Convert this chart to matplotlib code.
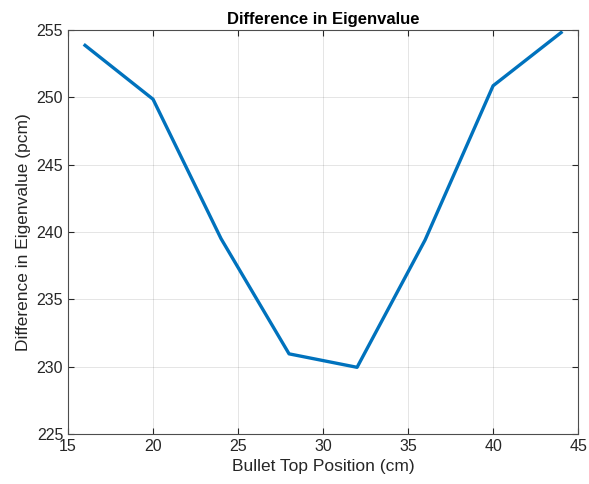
import matplotlib
matplotlib.use("Agg")
import matplotlib.pyplot as plt

plt.rcParams['font.family'] = ['Liberation Sans', 'DejaVu Sans']

# bullet top position (cm) vs eigenvalue difference (pcm)
position_cm = [16, 20, 24, 28, 32, 36, 40, 44]
diff_pcm = [253.85, 249.85, 239.5, 230.95, 229.95, 239.4, 250.85, 254.8]

fig = plt.figure(figsize=(5.89, 4.84), dpi=100)
ax = fig.add_axes([0.1155, 0.1033, 0.866, 0.835])

ax.plot(position_cm, diff_pcm, color='#0072BD', linewidth=2.4)

ax.set_xlim(15, 45)
ax.set_ylim(225, 255)
ax.set_xticks(range(15, 46, 5))
ax.set_yticks(range(225, 256, 5))
ax.grid(True, color='#262626', alpha=0.12, linewidth=0.7)
ax.set_axisbelow(True)

for s in ax.spines.values():
    s.set_color('#4d4d4d')
    s.set_linewidth(0.8)
ax.tick_params(direction='in', top=True, right=True, length=4,
               width=0.8, colors='#262626', labelsize=11.5)

ax.set_xlabel('Bullet Top Position (cm)', fontsize=12.5, color='#262626')
ax.set_ylabel('Difference in Eigenvalue (pcm)', fontsize=12.5, color='#262626')
ax.set_title('Difference in Eigenvalue', fontsize=12, fontweight='bold', pad=4)

fig.savefig('out.png', dpi=100)
